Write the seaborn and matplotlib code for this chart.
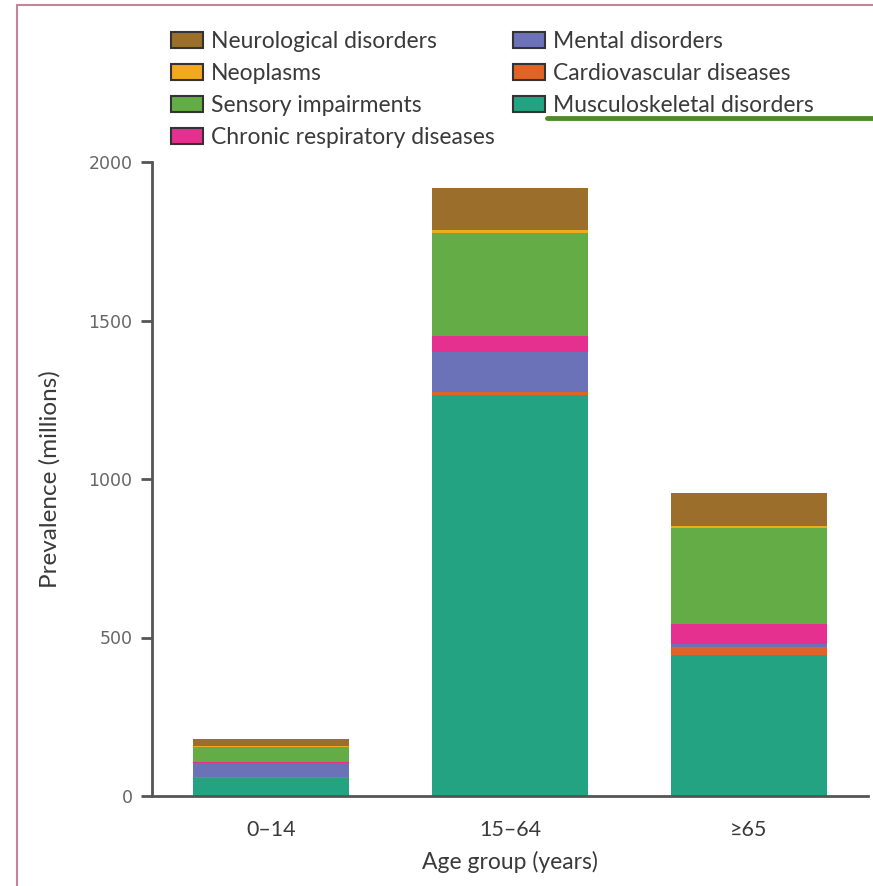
import numpy as np
import pandas as pd
import matplotlib
matplotlib.use("Agg")
import matplotlib.pyplot as plt
from matplotlib.patches import Patch
from matplotlib.lines import Line2D
import seaborn as sns

# Data (millions)
age_groups = ["0\u201314", "15\u201364", "\u226565"]
musculoskeletal = [57, 1265, 445]
cardiovascular = [2, 10, 26]
mental = [44, 126, 8]
chronic_respiratory = [3, 50, 65]
sensory = [50, 325, 303]
neoplasms = [2, 10, 6]
neurological = [22, 132, 103]

# bottom -> top stacking order
layers = [
    ("Musculoskeletal disorders", musculoskeletal, "#23a382"),
    ("Cardiovascular diseases", cardiovascular, "#e06426"),
    ("Mental disorders", mental, "#6c72b8"),
    ("Chronic respiratory diseases", chronic_respiratory, "#e5308f"),
    ("Sensory impairments", sensory, "#63ac46"),
    ("Neoplasms", neoplasms, "#f2a91e"),
    ("Neurological disorders", neurological, "#9b6f2b"),
]
legend_order = ["Neurological disorders", "Neoplasms", "Sensory impairments",
                "Chronic respiratory diseases", "Mental disorders",
                "Cardiovascular diseases", "Musculoskeletal disorders"]

sns.set_style("white")
NARROW = ["Lato", "DejaVu Sans"]
plt.rcParams["font.family"] = NARROW
TEXT = "#3a3a3a"
AXIS = "#555555"
FS = 16.5

fig = plt.figure(figsize=(8.73, 8.86), dpi=100)
ax = fig.add_axes([152 / 873, 1 - 796 / 886, 716 / 873, 634 / 886])

# stacked bars: draw cumulative totals from the top layer down
cum = np.cumsum([np.array(v, dtype=float) for _, v, _ in layers], axis=0)
for i in range(len(layers) - 1, -1, -1):
    df = pd.DataFrame({"age": age_groups, "value": cum[i]})
    sns.barplot(data=df, x="age", y="value", order=age_groups, color=layers[i][2],
                saturation=1, width=0.654, linewidth=0, ax=ax)

ax.set_xlim(-0.5, 2.5)
ax.set_ylim(0, 2000)
ax.set_yticks([0, 500, 1000, 1500, 2000])
ax.set_yticklabels(["0", "500", "1000", "1500", "2000"], family="DejaVu Sans",
                   fontsize=12.5, color="#666666")
ax.set_xticks([0, 1, 2])
ax.set_xticklabels(age_groups, fontsize=15.5, color=TEXT)
ax.set_xticks([-0.5, 0.5, 1.5, 2.5], minor=True)
ax.tick_params(axis="x", which="major", length=0, pad=17)
ax.tick_params(axis="x", which="minor", length=8, width=2, color=AXIS, direction="out")
ax.tick_params(axis="y", length=8, width=2, color=AXIS, direction="out", pad=6, left=True)

for s in ["top", "right"]:
    ax.spines[s].set_visible(False)
for s in ["left", "bottom"]:
    ax.spines[s].set_color(AXIS)
    ax.spines[s].set_linewidth(2)

ax.set_xlabel("Age group (years)", fontsize=FS, color=TEXT)
ax.set_ylabel("Prevalence (millions)", fontsize=17.5, color=TEXT)
ax.xaxis.set_label_coords(0.5, -0.087)
ax.yaxis.set_label_coords(-0.127, 0.5)

colors = {name: c for name, _, c in layers}
handles = [Patch(facecolor=colors[n], edgecolor="#333333", linewidth=1.5, label=n)
           for n in legend_order]
fig.legend(handles=handles, loc="upper left", bbox_to_anchor=(171 / 873, 1 - 31 / 886),
           ncol=2, frameon=False, fontsize=FS, labelcolor=TEXT,
           handlelength=1.4, handleheight=0.75, handletextpad=0.35,
           labelspacing=0.48, columnspacing=0.8, borderpad=0, borderaxespad=0)

# page decoration from the scanned figure
fig.add_artist(Line2D([17 / 873, 17 / 873], [0, 1 - 5 / 886], transform=fig.transFigure,
                      color="#c9819c", linewidth=1.5))
fig.add_artist(Line2D([17 / 873, 1], [1 - 5 / 886, 1 - 5 / 886], transform=fig.transFigure,
                      color="#c9819c", linewidth=1.5))
fig.add_artist(Line2D([547 / 873, 1], [1 - 118 / 886, 1 - 118 / 886], transform=fig.transFigure,
                      color="#4f8a2e", linewidth=3.5))

fig.savefig("out.png", dpi=100)
